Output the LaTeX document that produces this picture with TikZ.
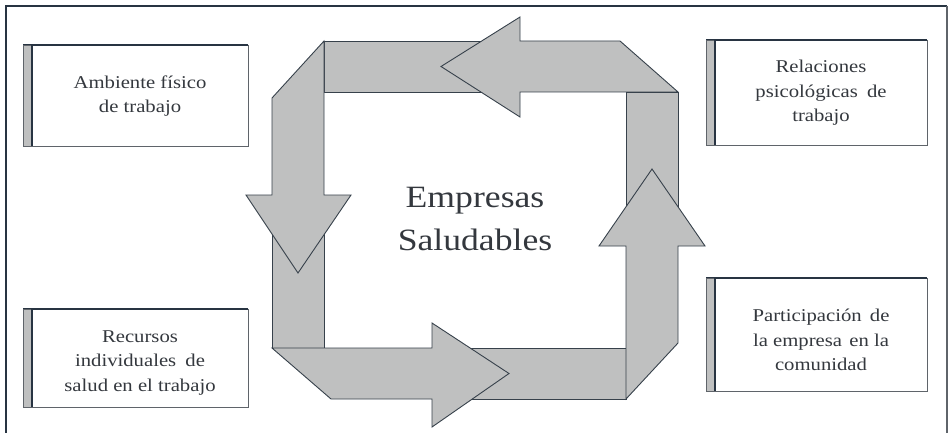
\documentclass[tikz,border=0pt]{standalone}
\usepackage{fontspec}
\setmainfont{Liberation Serif}[FakeStretch=1.15]
\definecolor{arrfill}{RGB}{191,192,192}
\definecolor{arrline}{RGB}{55,65,75}
\definecolor{framec}{RGB}{40,52,66}
\definecolor{txtc}{RGB}{52,56,62}
\definecolor{boxline}{RGB}{95,100,106}
\tikzset{
  arrpart/.style={fill=arrfill, draw=arrline, line width=0.9pt, line join=miter},
  boxframe/.style={draw=boxline, line width=0.9pt, fill=white},
  boxbar/.style={fill=arrfill, draw=boxline, line width=0.6pt},
  boxtext/.style={align=center, text=txtc, font=\fontsize{18}{24.5}\selectfont, inner sep=0pt},
  bigtext/.style={text=txtc, font=\fontsize{31}{43}\selectfont, inner sep=0pt, anchor=base}
}
\begin{document}
\begin{tikzpicture}[x=1pt,y=-1pt]
\useasboundingbox (0,0) rectangle (949,433);
\fill[white] (0,0) rectangle (949,433);
% outer frame
\draw[framec, line width=2.5pt] (6,433) -- (6,6) -- (947,6);
\draw[boxline, line width=1.2pt] (947,6) -- (947,433);

% side boxes
\foreach \xa/\ya/\xb/\yb in {23/45/248/146, 23/309/248/407, 706/40/927/145, 706/278/927/391}{
  \draw[boxframe] (\xa,\ya) rectangle (\xb,\yb);
  \draw[framec, line width=1.1pt] (\xa,\ya) -- (\xb,\ya);
  \draw[boxbar] (\xa,\ya) rectangle (\xa+9,\yb);
  \draw[framec, line width=1.6pt] (\xa+9,\ya) -- (\xa+9,\yb);
}
\node[boxtext] (tl) at (140,96) {Ambiente físico\\de trabajo};
\node[boxtext] (bl) at (140,363) {Recursos\\individuales\hspace{4pt} de\\salud en el trabajo};
\node[boxtext] (tr) at (821,93) {Relaciones\\psicológicas\hspace{4pt} de\\trabajo};
\node[boxtext] (br) at (821,340) {Participación\hspace{3pt} de\\la empresa\hspace{2pt} en la\\comunidad};

% arrow tails
\draw[arrpart] (324,41) rectangle (480,92);
\draw[arrpart] (626,92) rectangle (678,215);
\draw[arrpart] (450,348) rectangle (626,399);
\draw[arrpart] (272,225) rectangle (324,348);

% arrow heads with bevelled bends
\draw[arrpart] (272,98) -- (324,41) -- (324,195) -- (351,195) -- (298,273) -- (246,195) -- (272,195) -- cycle;
\draw[arrpart] (678,92) -- (620,41) -- (520,41) -- (520,17) -- (441,66.5) -- (520,117) -- (520,92) -- cycle;
\draw[arrpart] (272,348) -- (432,348) -- (432,323) -- (509,373.5) -- (432,427) -- (432,399) -- (331,399) -- cycle;
\draw[arrpart] (626,399) -- (678,343) -- (678,246) -- (705,246) -- (652,169) -- (599,246) -- (626,246) -- cycle;

% centre text
\node[bigtext] (emp) at (475,207) {Empresas};
\node[bigtext] (sal) at (475,250) {Saludables};
\end{tikzpicture}
\end{document}
